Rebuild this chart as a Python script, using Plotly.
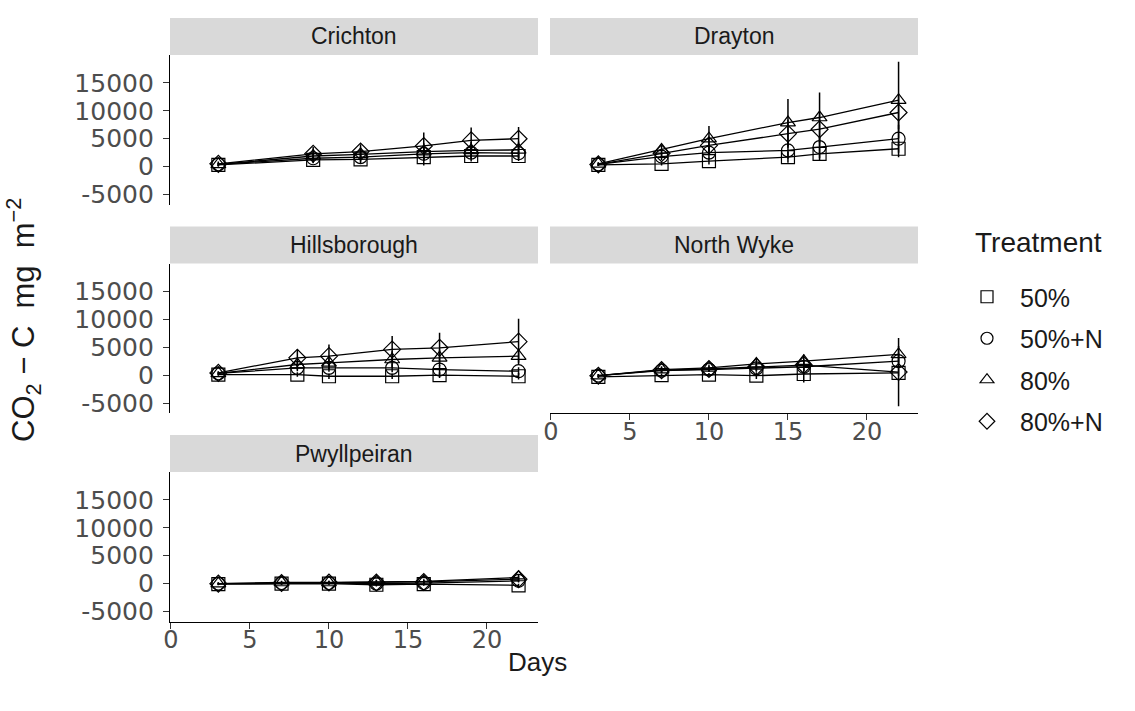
import plotly.graph_objects as go

# ---------------- data ----------------
TREATMENTS = ["50%", "50%+N", "80%", "80%+N"]
SITES = ["Crichton", "Drayton", "Hillsborough", "North Wyke", "Pwyllpeiran"]

DAYS_CRICHTON = [3, 9, 12, 16, 19, 22]
MEAN_CRICHTON = [
    [300, 1200, 1300, 1700, 1900, 1900],
    [400, 1500, 1700, 2300, 2500, 2400],
    [400, 1900, 2200, 2700, 2900, 3000],
    [500, 2300, 2700, 3700, 4700, 5000],
]
SE_CRICHTON = [
    [300, 600, 700, 1500, 1000, 900],
    [300, 700, 800, 1200, 1000, 1000],
    [300, 800, 900, 1500, 1500, 1500],
    [400, 1200, 1300, 2400, 2300, 2100],
]

DAYS_DRAYTON = [3, 7, 10, 15, 17, 22]
MEAN_DRAYTON = [
    [300, 500, 1000, 1700, 2300, 3200],
    [400, 1800, 2500, 2900, 3500, 5000],
    [500, 3000, 5000, 7900, 8800, 11900],
    [400, 2400, 3800, 5900, 6700, 9700],
]
SE_DRAYTON = [
    [200, 300, 600, 1000, 1200, 1500],
    [300, 600, 1200, 1500, 2000, 2500],
    [300, 800, 2300, 4200, 4500, 6880],
    [300, 700, 1500, 2500, 3000, 3000],
]

DAYS_HILLSBOROUGH = [3, 8, 10, 14, 17, 22]
MEAN_HILLSBOROUGH = [
    [100, 100, -200, -200, 0, -200],
    [300, 1300, 1300, 1300, 1000, 700],
    [300, 1900, 2200, 2800, 3100, 3400],
    [400, 3100, 3400, 4600, 4900, 6000],
]
SE_HILLSBOROUGH = [
    [200, 400, 500, 500, 500, 600],
    [200, 600, 700, 800, 800, 700],
    [300, 900, 1200, 1500, 1500, 1200],
    [300, 1500, 2100, 2400, 2700, 4100],
]

DAYS_NORTHWYKE = [3, 7, 10, 13, 16, 22]
MEAN_NORTHWYKE = [
    [-300, 0, 100, -100, 200, 400],
    [-100, 800, 1000, 1200, 1500, 2500],
    [-100, 1000, 1300, 2000, 2500, 3700],
    [-100, 900, 1100, 1500, 1800, 550],
]
SE_NORTHWYKE = [
    [200, 300, 300, 600, 1500, 600],
    [200, 400, 400, 600, 800, 1500],
    [300, 600, 600, 1000, 1200, 1500],
    [300, 500, 500, 800, 1000, 6120],
]

DAYS_PWYLLPEIRAN = [3, 7, 10, 13, 16, 22]
MEAN_PWYLLPEIRAN = [
    [-100, 0, 0, -200, -100, -300],
    [0, 100, 100, 0, 100, 500],
    [0, 200, 200, 300, 400, 1100],
    [0, 100, 200, 200, 300, 800],
]
SE_PWYLLPEIRAN = [
    [200, 200, 200, 300, 300, 300],
    [200, 200, 200, 300, 300, 300],
    [200, 300, 300, 400, 400, 500],
    [200, 300, 300, 400, 400, 500],
]

X_TICKS = [0, 5, 10, 15, 20]
X_TICK_LABELS = ["0", "5", "10", "15", "20"]
Y_TICKS = [-5000, 0, 5000, 10000, 15000]
Y_TICK_LABELS = ["-5000", "0", "5000", "10000", "15000"]

SITE_DATA = [
    (DAYS_CRICHTON, MEAN_CRICHTON, SE_CRICHTON),
    (DAYS_DRAYTON, MEAN_DRAYTON, SE_DRAYTON),
    (DAYS_HILLSBOROUGH, MEAN_HILLSBOROUGH, SE_HILLSBOROUGH),
    (DAYS_NORTHWYKE, MEAN_NORTHWYKE, SE_NORTHWYKE),
    (DAYS_PWYLLPEIRAN, MEAN_PWYLLPEIRAN, SE_PWYLLPEIRAN),
]

# ---------------- layout geometry (pixels) ----------------
W, H = 1135, 711
FONT = "Liberation Sans, Arial, sans-serif"
TICK_FONT = "DejaVu Sans, sans-serif"
SYMBOLS = ["square-open", "circle-open", "triangle-up-open", "diamond-open"]

COLS = [(170, 538), (550, 918)]
ROWS = [(55, 204.5), (263.5, 413), (472, 621.5)]
STRIP_H = 37
X_RANGE = [-0.06, 23.23]
Y_RANGE = [-6786, 20000]

PANEL_POS = [(0, 0), (0, 1), (1, 0), (1, 1), (2, 0)]


def px(x):
    return x / W


def py(y):
    return 1 - y / H


fig = go.Figure()
layout = dict(
    width=W, height=H, autosize=False,
    margin=dict(l=0, r=0, t=0, b=0, pad=0, autoexpand=False),
    paper_bgcolor="white", plot_bgcolor="white",
    font=dict(family=FONT, color="#1a1a1a"),
    showlegend=True,
)
shapes = []
annotations = []

for i, (site, (days, means, ses)) in enumerate(zip(SITES, SITE_DATA)):
    r, c = PANEL_POS[i]
    k = i + 1
    xa = "x" if k == 1 else f"x{k}"
    ya = "y" if k == 1 else f"y{k}"
    x0, x1 = COLS[c]
    y0, y1 = ROWS[r]
    bottom = (i in (3, 4))
    left = (c == 0)
    layout[f"xaxis{'' if k == 1 else k}"] = dict(
        domain=[px(x0), px(x1)], range=X_RANGE, anchor=ya,
        showgrid=False, zeroline=False, automargin=False,
        showline=bottom, linecolor="black", linewidth=1.2,
        ticks="outside" if bottom else "", ticklen=6, tickwidth=1.1, tickcolor="#333333",
        showticklabels=bottom, tickvals=X_TICKS, ticktext=X_TICK_LABELS,
        ticklabelstandoff=-9,
        tickfont=dict(size=24, color="#4d4d4d", family=TICK_FONT),
    )
    layout[f"yaxis{'' if k == 1 else k}"] = dict(
        domain=[py(y1), py(y0)], range=Y_RANGE, anchor=xa,
        showgrid=False, zeroline=False, automargin=False,
        showline=left, linecolor="black", linewidth=1.2,
        ticks="outside" if left else "", ticklen=6, tickwidth=1.1, tickcolor="#333333",
        showticklabels=left, tickvals=Y_TICKS, ticktext=Y_TICK_LABELS,
        ticklabelstandoff=4,
        tickfont=dict(size=25, color="#4d4d4d", family=TICK_FONT),
    )
    shapes.append(dict(type="rect", xref="paper", yref="paper",
                       x0=px(x0), x1=px(x1), y0=py(y0), y1=py(y0 - STRIP_H),
                       fillcolor="#d9d9d9", line=dict(width=0), layer="below"))
    annotations.append(dict(text=site, xref="paper", yref="paper",
                            x=px((x0 + x1) / 2), y=py(y0 - STRIP_H / 2),
                            showarrow=False, xanchor="center", yanchor="middle",
                            font=dict(size=23, color="#1a1a1a", family=FONT)))
    for t, name in enumerate(TREATMENTS):
        fig.add_trace(go.Scatter(
            x=days, y=means[t], xaxis=xa, yaxis=ya,
            mode="lines+markers", name=name, showlegend=False,
            line=dict(color="black", width=1.3),
            marker=dict(symbol=SYMBOLS[t], size=13, color="black",
                        line=dict(color="black", width=1.2)),
            error_y=dict(type="data", array=ses[t], visible=True,
                         color="black", thickness=1.5, width=0),
        ))

for t, name in enumerate(TREATMENTS):
    fig.add_trace(go.Scatter(
        x=[None], y=[None], mode="markers", name=name, showlegend=True,
        legendgroup=name,
        marker=dict(symbol=SYMBOLS[t], size=12, color="black",
                    line=dict(color="black", width=1.2)),
    ))

layout["legend"] = dict(
    x=px(954), y=py(274), xanchor="left", yanchor="top",
    font=dict(size=25, color="#1a1a1a", family=FONT),
    tracegroupgap=6, itemwidth=56, bgcolor="rgba(0,0,0,0)", itemclick=False,
)

NB = "\u00a0"
annotations.append(dict(text="Treatment", xref="paper", yref="paper",
                        x=px(973), y=py(242), showarrow=False,
                        xanchor="left", yanchor="middle",
                        font=dict(size=28, color="#1a1a1a", family=FONT)))
annotations.append(dict(text="Days", xref="paper", yref="paper",
                        x=px(537), y=py(662), showarrow=False,
                        xanchor="center", yanchor="middle",
                        font=dict(size=26, color="#1a1a1a", family=FONT)))
annotations.append(dict(text=f"CO<sub>2</sub>{NB}\u2212{NB}C{NB}{NB}mg{NB}{NB}m<sup>\u22122</sup>",
                        xref="paper", yref="paper",
                        x=px(23), y=py(320), showarrow=False, textangle=-90,
                        xanchor="center", yanchor="middle",
                        font=dict(size=31, color="#1a1a1a", family=FONT)))

layout["shapes"] = shapes
layout["annotations"] = annotations
fig.update_layout(**layout)
fig.write_html("out.html")
